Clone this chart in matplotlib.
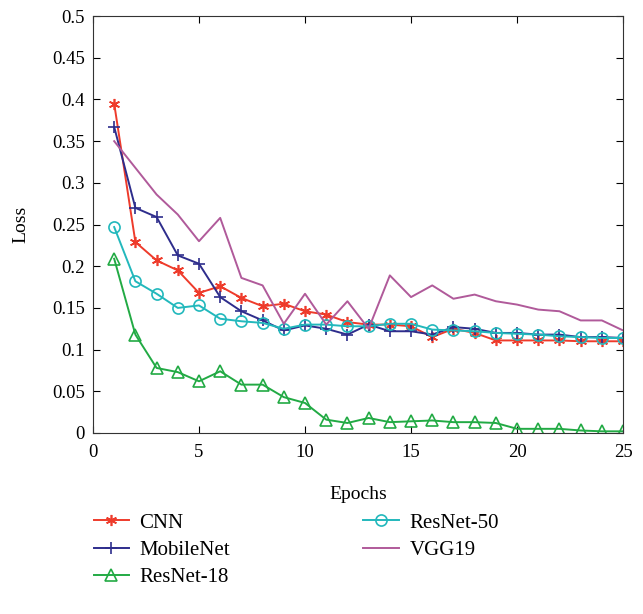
import matplotlib.pyplot as plt
import numpy as np

plt.rcParams['font.family'] = ['Liberation Serif', 'DejaVu Serif']

epochs = np.arange(1, 26)

cnn = [0.395, 0.229, 0.207, 0.195, 0.168, 0.176, 0.162, 0.152, 0.155, 0.146,
       0.142, 0.133, 0.130, 0.130, 0.128, 0.115, 0.125, 0.120, 0.111, 0.111,
       0.111, 0.111, 0.110, 0.110, 0.110]
mobilenet = [0.367, 0.270, 0.259, 0.213, 0.203, 0.163, 0.146, 0.135, 0.123, 0.129,
             0.125, 0.118, 0.130, 0.122, 0.122, 0.118, 0.127, 0.125, 0.120, 0.120,
             0.118, 0.118, 0.115, 0.115, 0.114]
resnet18 = [0.209, 0.118, 0.078, 0.073, 0.062, 0.074, 0.058, 0.058, 0.043, 0.036,
            0.016, 0.012, 0.018, 0.013, 0.014, 0.015, 0.013, 0.013, 0.012, 0.005,
            0.005, 0.005, 0.003, 0.002, 0.002]
resnet50 = [0.247, 0.182, 0.167, 0.150, 0.153, 0.137, 0.134, 0.132, 0.125, 0.130,
            0.130, 0.128, 0.128, 0.131, 0.131, 0.124, 0.123, 0.122, 0.120, 0.119,
            0.118, 0.116, 0.115, 0.114, 0.114]
vgg19 = [0.350, 0.318, 0.286, 0.262, 0.230, 0.258, 0.186, 0.177, 0.131, 0.167,
         0.130, 0.158, 0.125, 0.189, 0.163, 0.177, 0.161, 0.166, 0.158, 0.154,
         0.148, 0.146, 0.135, 0.135, 0.123]

fig = plt.figure(figsize=(6.43, 6.14), dpi=100)
ax = fig.add_axes([0.1446, 0.2948, 0.8244, 0.679])

ax.plot(epochs, cnn, color='#ee3b2b', marker=(6, 2, 0), ms=8, mew=1.2, lw=1.4, label='CNN')
ax.plot(epochs, mobilenet, color='#2e2d8c', marker='+', ms=9, mew=1.2, lw=1.4, label='MobileNet')
ax.plot(epochs, resnet18, color='#22aa44', marker='^', ms=8, mfc='none', mew=1.2, lw=1.4, label='ResNet-18')
ax.plot(epochs, resnet50, color='#22b8bc', marker='o', ms=8, mfc='none', mew=1.2, lw=1.4, label='ResNet-50')
ax.plot(epochs, vgg19, color='#b05a9a', lw=1.4, label='VGG19')

ax.set_xlim(0, 25)
ax.set_ylim(0, 0.5)
ax.set_xticks([0, 5, 10, 15, 20, 25])
ax.set_yticks(np.arange(0, 0.501, 0.05))
ax.set_yticklabels(['0', '0.05', '0.1', '0.15', '0.2', '0.25', '0.3', '0.35', '0.4', '0.45', '0.5'])
ax.tick_params(direction='in', top=True, right=True, labelsize=13.5, length=5)
ax.tick_params(axis='x', pad=8)
ax.tick_params(axis='y', pad=6)
for s in ax.spines.values():
    s.set_color('#333333')

ax.set_xlabel('Epochs', fontsize=14, labelpad=18)
ax.set_ylabel('Loss', fontsize=14, labelpad=16)

fig.legend(loc='upper left', bbox_to_anchor=(0.1165, 0.195), ncol=2, frameon=False,
           fontsize=15, handlelength=1.7, handletextpad=0.5, columnspacing=6.4,
           labelspacing=0.37)

fig.savefig('out.png', dpi=100)
